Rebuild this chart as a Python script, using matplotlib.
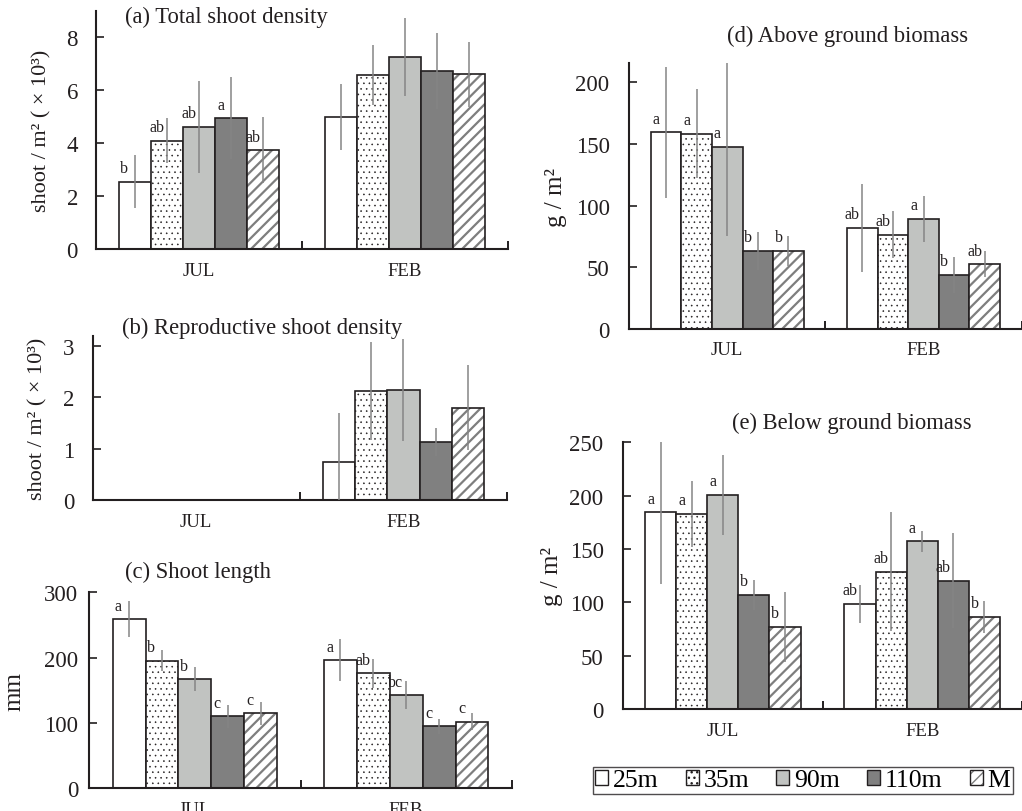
import matplotlib

matplotlib.use("Agg")
import matplotlib.pyplot as plt
from matplotlib.legend_handler import HandlerTuple
from matplotlib.patches import Patch

MONTHS = ["JUL", "FEB"]
SITES = ["25m", "35m", "90m", "110m", "M"]

# (a) total shoot density, shoot / m2 (x 10^3); rows = JUL, FEB
total_density = [[2.55, 4.10, 4.62, 4.95, 3.74], [5.00, 6.58, 7.27, 6.73, 6.60]]
total_density_se = [[1.00, 0.86, 1.73, 1.54, 1.25], [1.25, 1.15, 1.48, 1.45, 1.24]]
total_density_letters = [["b", "ab", "ab", "a", "ab"], ["", "", "", "", ""]]

# (b) reproductive shoot density
repro_density = [[0, 0, 0, 0, 0], [0.75, 2.12, 2.14, 1.13, 1.80]]
repro_density_se = [[0, 0, 0, 0, 0], [0.94, 0.96, 1.00, 0.28, 0.83]]
repro_density_letters = [["", "", "", "", ""], ["", "", "", "", ""]]

# (c) shoot length, mm
shoot_length = [[259, 195, 167, 110, 114.5], [196, 176, 142.5, 94.5, 101.7]]
shoot_length_se = [[28, 16, 18, 18, 17.5], [32, 22, 22, 12, 13]]
shoot_length_letters = [["a", "b", "b", "c", "c"], ["a", "ab", "bc", "c", "c"]]

# (d) above ground biomass, g / m2
above_biomass = [[159.5, 158.4, 147.8, 63.2, 63.2], [81.9, 76.5, 89.2, 44.0, 52.4]]
above_biomass_se = [[53, 36, 72, 15.6, 12.2], [36, 19, 19, 14.5, 10.5]]
above_biomass_letters = [["a", "a", "a", "b", "b"], ["ab", "ab", "a", "b", "ab"]]

# (e) below ground biomass, g / m2
below_biomass = [[184.4, 183, 201, 107.2, 76.9], [98.4, 128.8, 157.2, 120.3, 86.6]]
below_biomass_se = [[67, 31, 37.5, 14, 33], [18, 56, 9.6, 44.5, 15]]
below_biomass_letters = [["a", "a", "a", "b", "b"], ["ab", "ab", "a", "ab", "b"]]

EDGE = "#231f20"
ERR_GRAY = "#858585"
HATCH_GRAY = "#7e7e7e"
BAR_W = 0.156

SITE_STYLE = {
    "25m": dict(color="white", hatch=None, hatch_lw=1.0),
    "35m": dict(color="white", hatch="...", hatch_lw=0.4),
    "90m": dict(color="#c1c3c1", hatch=None, hatch_lw=1.0),
    "110m": dict(color="#808080", hatch=None, hatch_lw=1.0),
    "M": dict(color="white", hatch="///", hatch_lw=1.6),
}

plt.rcParams["font.family"] = ["Liberation Serif", "DejaVu Serif"]


def draw_bars(ax, site, xs, vals):
    style = SITE_STYLE[site]
    with plt.rc_context({"hatch.linewidth": style["hatch_lw"]}):
        if site == "M":
            # grey stripes under a black outline
            ax.bar(xs, vals, BAR_W, color="white", edgecolor=HATCH_GRAY,
                   hatch=style["hatch"], linewidth=0, zorder=2)
            ax.bar(xs, vals, BAR_W, fill=False, edgecolor=EDGE, linewidth=1.2, zorder=2.1)
        else:
            ax.bar(xs, vals, BAR_W, color=style["color"], edgecolor=EDGE,
                   hatch=style["hatch"], linewidth=1.2, zorder=2)


def draw_panel(ax, means, errs, letters, spec):
    for s, site in enumerate(SITES):
        xs = [m + 0.5 + (s - 2) * BAR_W for m in range(len(MONTHS))]
        vals = [means[m][s] for m in range(len(MONTHS))]
        yerr = [errs[m][s] for m in range(len(MONTHS))]
        draw_bars(ax, site, xs, vals)
        ax.errorbar(xs, vals, yerr=yerr, fmt="none", ecolor=ERR_GRAY,
                    elinewidth=1.1, capsize=0, zorder=3)
        for m in range(len(MONTHS)):
            if letters[m][s]:
                ax.annotate(letters[m][s], (xs[m] - 0.32 * BAR_W, vals[m]),
                            xytext=(0, 4), textcoords="offset points",
                            ha="center", va="bottom", fontsize=11.5, color=EDGE)

    ax.set_xlim(0, len(MONTHS))
    ax.set_ylim(0, spec["ymax"])
    ax.set_yticks(spec["yticks"])
    ax.set_xticks(range(len(MONTHS) + 1))
    ax.set_xticks([m + 0.5 for m in range(len(MONTHS))], minor=True)
    ax.set_xticklabels(MONTHS, minor=True)
    ax.tick_params(axis="x", which="major", direction="in", length=6, width=1.4,
                   color=EDGE, labelbottom=False)
    ax.tick_params(axis="x", which="minor", length=0, pad=9, labelsize=13.5,
                   labelcolor=EDGE)
    ax.tick_params(axis="y", direction="in", length=6, width=1.2, color=EDGE,
                   pad=spec["ypad"], labelsize=16.5, labelcolor=EDGE)
    for side in ("top", "right"):
        ax.spines[side].set_visible(False)
    for side in ("left", "bottom"):
        ax.spines[side].set_linewidth(1.5)
        ax.spines[side].set_color(EDGE)

    ax.set_ylabel(spec["ylabel"], fontsize=spec["lsize"], color=EDGE)
    ax.yaxis.set_label_coords(spec["labelx"], 0.5)
    ax.text(spec["title_xy"][0], spec["title_xy"][1], spec["title"],
            transform=ax.transAxes, ha="left", va="center", fontsize=16.3, color=EDGE)


def main():
    fig = plt.figure(figsize=(10.22, 8.12), dpi=100)

    density_label = "shoot / m² ( × 10³)"
    panels = [
        ([0.0939, 0.6921, 0.4031, 0.2931], total_density, total_density_se,
         total_density_letters,
         dict(ymax=9, yticks=[0, 2, 4, 6, 8], ylabel=density_label, labelx=-0.107,
              ypad=13, lsize=16,
              title="(a) Total shoot density", title_xy=(0.070, 0.979))),
        ([0.0907, 0.3830, 0.4054, 0.2023], repro_density, repro_density_se,
         repro_density_letters,
         dict(ymax=3.2, yticks=[0, 1, 2, 3], ylabel=density_label, labelx=-0.110,
              ypad=13, lsize=16,
              title="(b) Reproductive shoot density", title_xy=(0.071, 1.053))),
        ([0.0874, 0.0283, 0.4133, 0.2410], shoot_length, shoot_length_se,
         shoot_length_letters,
         dict(ymax=300, yticks=[0, 100, 200, 300], ylabel="mm", labelx=-0.152,
              ypad=8, lsize=18,
              title="(c) Shoot length", title_xy=(0.085, 1.109))),
        ([0.6155, 0.5936, 0.3842, 0.3272], above_biomass, above_biomass_se,
         above_biomass_letters,
         dict(ymax=215.4, yticks=[0, 50, 100, 150, 200], ylabel="g / m²",
              labelx=-0.158, ypad=14, lsize=18,
              title="(d) Above ground biomass", title_xy=(0.25, 1.104))),
        ([0.6096, 0.1256, 0.3904, 0.3284], below_biomass, below_biomass_se,
         below_biomass_letters,
         dict(ymax=250, yticks=[0, 50, 100, 150, 200, 250], ylabel="g / m²",
              labelx=-0.150, ypad=14, lsize=18,
              title="(e) Below ground biomass", title_xy=(0.273, 1.076))),
    ]
    for rect, means, errs, letters, spec in panels:
        ax = fig.add_axes(rect)
        draw_panel(ax, means, errs, letters, spec)

    handles = []
    for site in SITES:
        style = SITE_STYLE[site]
        with plt.rc_context({"hatch.linewidth": style["hatch_lw"]}):
            if site == "M":
                handles.append((Patch(facecolor="white", edgecolor=HATCH_GRAY,
                                      hatch=style["hatch"], linewidth=0),
                                Patch(fill=False, edgecolor=EDGE, linewidth=1.0)))
            else:
                handles.append(Patch(facecolor=style["color"], edgecolor=EDGE,
                                     hatch=style["hatch"], linewidth=1.0))
    leg = fig.legend(handles, SITES, loc="center", bbox_to_anchor=(0.7856, 0.0376),
                     ncol=5, fontsize=18.5, frameon=True, fancybox=False,
                     handlelength=0.5, handleheight=0.5, handletextpad=0.2,
                     columnspacing=1.05, borderpad=0.08, borderaxespad=0,
                     handler_map={tuple: HandlerTuple(ndivide=1)})
    leg.get_frame().set_edgecolor(EDGE)
    leg.get_frame().set_linewidth(1.0)

    fig.savefig("out.png", dpi=100)


if __name__ == "__main__":
    main()
